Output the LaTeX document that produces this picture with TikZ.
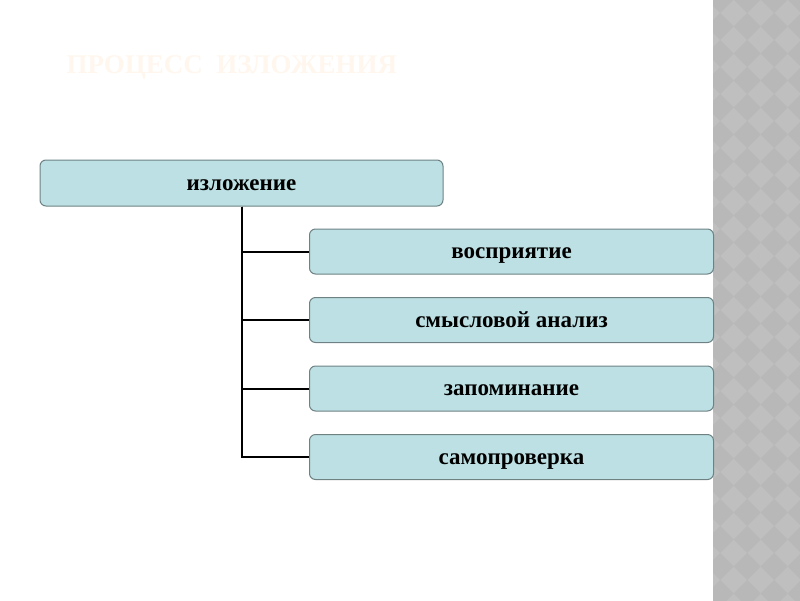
\documentclass[tikz,border=0pt]{standalone}
\usepackage{fontspec}
\setmainfont{Liberation Serif}
\usepackage{tikz}
\usetikzlibrary{positioning, calc}
\definecolor{boxfill}{RGB}{188,224,227}
\definecolor{boxline}{RGB}{110,130,132}
\definecolor{titlecol}{RGB}{255,246,238}
\definecolor{stripe}{RGB}{191,191,191}
\definecolor{stripedark}{RGB}{184,184,184}

\begin{document}
\begin{tikzpicture}[
    x=1pt, y=-1pt,
    head/.style={rectangle, rounded corners=6pt, draw=boxline, line width=1pt, fill=boxfill,
                 minimum width=403pt, minimum height=46pt, text height=16pt, text depth=2pt,
                 font=\bfseries\fontsize{23}{26}\selectfont},
    item/.style={rectangle, rounded corners=6pt, draw=boxline, line width=1pt, fill=boxfill,
                 minimum width=404pt, minimum height=45pt, text height=16pt, text depth=2pt,
                 font=\bfseries\fontsize{23}{26}\selectfont},
    link/.style={draw=black, line width=2pt}
]
\useasboundingbox (0,0) rectangle (800,600);
% grey patterned stripe on the right
\fill[stripe] (713,0) rectangle (800,605);
\begin{scope}
  \clip (713,0) rectangle (800,605);
  \foreach \i in {0,...,3}
    \foreach \j in {-1,...,22}
      \fill[stripedark] ($(720+27*\i,13+27*\j)$) -- ++(13.5,13.5) -- ++(-13.5,13.5) -- ++(-13.5,-13.5) -- cycle;
\end{scope}
% title
\node[anchor=west, text=titlecol, font=\bfseries\fontsize{27}{30}\selectfont] (title) at (63,67) {ПРОЦЕСС\ \ ИЗЛОЖЕНИЯ};
% top box
\node[head] (main) at (241.5,183) {изложение};
% sub boxes
\node[item] (I1) at (511.5,251.5) {восприятие};
\node[item] (I2) at (511.5,320) {смысловой анализ};
\node[item] (I3) at (511.5,388.5) {запоминание};
\node[item] (I4) at (511.5,457) {самопроверка};
% connectors
\draw[link] (main.south) |- (I1.west);
\draw[link] (main.south) |- (I2.west);
\draw[link] (main.south) |- (I3.west);
\draw[link] (main.south) |- (I4.west);
\end{tikzpicture}
\end{document}
